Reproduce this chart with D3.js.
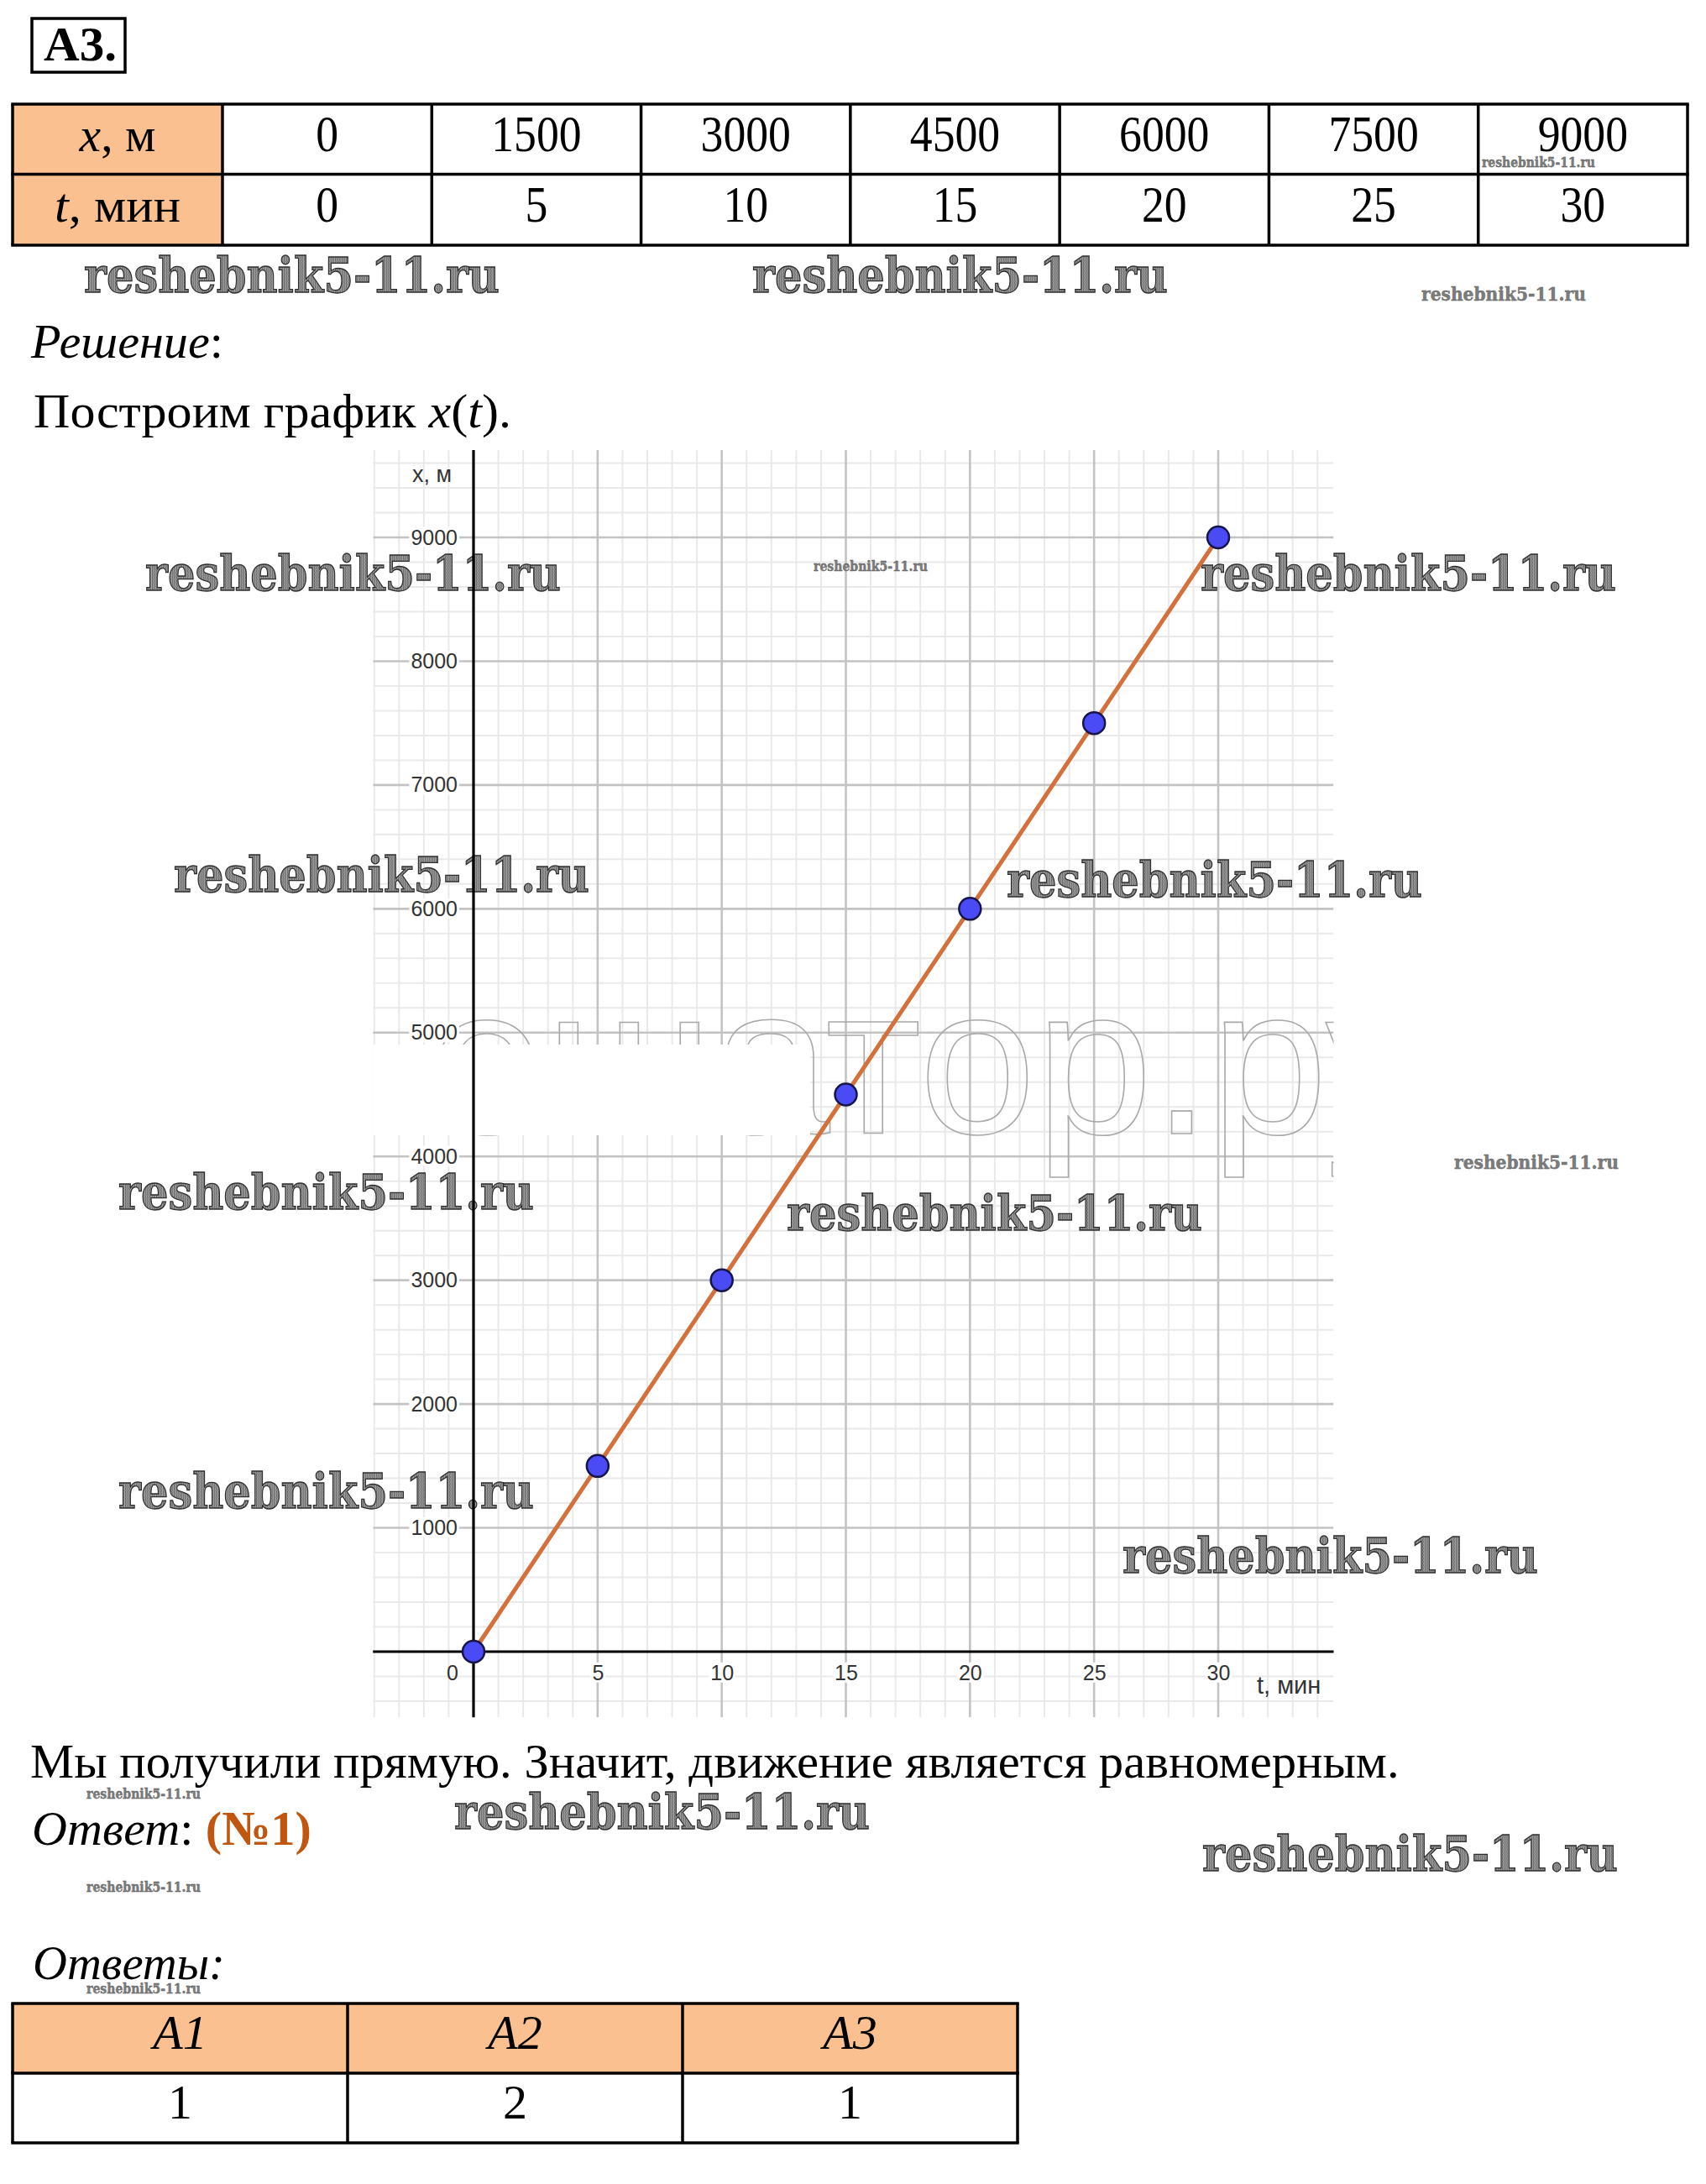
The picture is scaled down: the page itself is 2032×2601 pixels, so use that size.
<!DOCTYPE html>
<html>
<head>
<meta charset="utf-8">
<script src="https://cdn.jsdelivr.net/npm/d3@7"></script>
<style>
  html, body { margin: 0; padding: 0; background: #fff; }
  svg { display: block; }
  .serif { font-family: 'Liberation Serif', 'Times New Roman', serif; }
  .sans { font-family: 'Liberation Sans', Arial, sans-serif; }
  .mark { font-family: 'DejaVu Serif', serif; font-weight: bold; }
</style>
</head>
<body>
<div id="main"></div>
<script>
'use strict';
// - - - - - - - - - -

// data
const timeMin = [0, 5, 10, 15, 20, 25, 30];
const distM = [0, 1500, 3000, 4500, 6000, 7500, 9000];
const tTicks = [5, 10, 15, 20, 25, 30];
const xTicks = [1000, 2000, 3000, 4000, 5000, 6000, 7000, 8000, 9000];
const answerKeys = ['A1', 'A2', 'A3'];
const answerVals = ['1', '2', '1'];

// declaration
let
  svg = undefined,
  tScale = undefined,
  xScale = undefined;

// configuration
const canvas = { context: '#main', width: 2032, height: 2601 };
const view = { tFrom: -4.05, tTo: 34.65, xFrom: -530, xTo: 9705 };
const orange = '#fac08f';

// watermark spots: left, baseline, width
const marks = [
  [100, 348, 495], [896, 348, 495], [1693, 358, 196], [1765, 199, 135],
  [173, 703, 495], [969, 680, 136], [1430, 703, 495],
  [207, 1062, 495], [1199, 1068, 495],
  [141, 1440, 495], [937, 1465, 495], [1732, 1392, 196],
  [141, 1796, 495], [1337, 1873, 495],
  [103, 2142, 136], [541, 2178, 495], [1432, 2228, 495],
  [103, 2253, 136], [103, 2374, 136]
];

// methods
function setCanvas(domContext) {
  svg = d3.select(domContext)
    .append('svg')
    .attr('width', canvas.width)
    .attr('height', canvas.height);

  svg.append('rect')
    .attr('width', canvas.width)
    .attr('height', canvas.height)
    .attr('fill', '#fff');

  const defs = svg.append('defs');
  const pat = defs.append('pattern')
    .attr('id', 'hatch')
    .attr('patternUnits', 'userSpaceOnUse')
    .attr('width', 3)
    .attr('height', 4);
  pat.append('rect').attr('width', 3).attr('height', 4).attr('fill', '#a2a2a2');
  pat.append('line')
    .attr('x1', 0.5).attr('y1', 0).attr('x2', 1.2).attr('y2', 4)
    .attr('stroke', '#505050').attr('stroke-width', 1);

  defs.append('clipPath')
    .attr('id', 'viewClip')
    .append('rect');
}

// squeeze a text horizontally to a measured width
function fitText(sel, x, y, width) {
  const w = sel.node().getComputedTextLength();
  const k = w > 0 ? width / w : 1;
  sel.attr('x', 0).attr('y', 0)
    .attr('transform', 'translate(' + x + ',' + y + ') scale(' + k + ',1)');
}

function writeLine(parts, x, y, width, size) {
  const t = svg.append('text')
    .attr('class', 'serif')
    .attr('font-size', size || 58)
    .attr('fill', '#000');
  parts.forEach(function (p) {
    t.append('tspan')
      .text(p.s)
      .attr('font-style', p.i ? 'italic' : null)
      .attr('font-weight', p.b ? 'bold' : null)
      .attr('fill', p.c || null);
  });
  fitText(t, x, y, width);
  return t;
}

function drawHeader() {
  svg.append('rect')
    .attr('x', 38).attr('y', 22)
    .attr('width', 111).attr('height', 64)
    .attr('fill', 'none').attr('stroke', '#000').attr('stroke-width', 3.5);
  writeLine([{ s: 'A3.', b: true }], 52, 72, 87, 57);
}

function drawDataTable() {
  const x0 = 15, labelW = 250, cellW = (2010 - 265) / timeMin.length;
  const rowY = [124, 207.5, 292];
  const rows = [
    { v: 'x', unit: ', м', w: 91, values: distM },
    { v: 't', unit: ', мин', w: 150, values: timeMin }
  ];
  const g = svg.append('g');

  rows.forEach(function (r, i) {
    g.append('rect')
      .attr('x', x0).attr('y', rowY[i])
      .attr('width', labelW).attr('height', rowY[i + 1] - rowY[i])
      .attr('fill', orange);
  });

  // grid lines of the table
  [x0, x0 + labelW].concat(timeMin.map(function (d, i) { return x0 + labelW + cellW * (i + 1); }))
    .forEach(function (x) {
      g.append('line').attr('x1', x).attr('x2', x).attr('y1', rowY[0]).attr('y2', rowY[2])
        .attr('stroke', '#000').attr('stroke-width', 3.5);
    });
  rowY.forEach(function (y) {
    g.append('line').attr('x1', x0 - 1.7).attr('x2', 2011.7).attr('y1', y).attr('y2', y)
      .attr('stroke', '#000').attr('stroke-width', 3.5);
  });

  rows.forEach(function (r, i) {
    const base = rowY[i] + 56;
    const lab = g.append('text').attr('class', 'serif').attr('font-size', 58)
      .attr('text-anchor', 'middle');
    lab.append('tspan').attr('font-style', 'italic').text(r.v);
    lab.append('tspan').text(r.unit);
    fitText(lab, x0 + labelW / 2, base, r.w);

    r.values.forEach(function (v, j) {
      g.append('text').attr('class', 'serif').attr('font-size', 61)
        .attr('text-anchor', 'middle')
        .attr('transform', 'translate(' + (x0 + labelW + cellW * (j + 0.5)) + ',' + base + ') scale(0.88,1)')
        .text(v);
    });
  });
}

function setScales() {
  tScale = d3.scaleLinear().domain([0, 30]).range([564, 1451]);
  xScale = d3.scaleLinear().domain([0, 9000]).range([1967, 640]);
}

function drawGrid() {
  const L = tScale(view.tFrom), R = tScale(view.tTo),
    T = xScale(view.xTo), B = xScale(view.xFrom);

  svg.select('#viewClip rect')
    .attr('x', L).attr('y', T).attr('width', R - L).attr('height', B - T);

  const g = svg.append('g').attr('clip-path', 'url(#viewClip)');
  const tLines = d3.range(-4, 35, 1),
    xLines = d3.range(-400, 9800, 200);

  // minor
  g.selectAll('.vmin').data(tLines.filter(function (d) { return d % 5 !== 0; }))
    .enter().append('line')
    .attr('x1', tScale).attr('x2', tScale).attr('y1', T).attr('y2', B)
    .attr('stroke', '#e9e9e9').attr('stroke-width', 2);
  g.selectAll('.hmin').data(xLines.filter(function (d) { return d % 1000 !== 0; }))
    .enter().append('line')
    .attr('y1', xScale).attr('y2', xScale).attr('x1', L).attr('x2', R)
    .attr('stroke', '#e9e9e9').attr('stroke-width', 2);

  // major
  g.selectAll('.vmaj').data(tLines.filter(function (d) { return d % 5 === 0 && d !== 0; }))
    .enter().append('line')
    .attr('x1', tScale).attr('x2', tScale).attr('y1', T).attr('y2', B)
    .attr('stroke', '#c3c3c3').attr('stroke-width', 2.6);
  g.selectAll('.hmaj').data(xLines.filter(function (d) { return d % 1000 === 0 && d !== 0; }))
    .enter().append('line')
    .attr('y1', xScale).attr('y2', xScale).attr('x1', L).attr('x2', R)
    .attr('stroke', '#c3c3c3').attr('stroke-width', 2.6);

  // faint outlined watermark behind the plot, with a white patch
  const ghost = g.append('text')
    .attr('class', 'sans')
    .attr('y', 1350)
    .attr('font-size', 250)
    .attr('fill', 'none')
    .attr('stroke', '#a9a9a9')
    .attr('stroke-width', 1.6)
    .text('ешатор.ру');
  const shift = ghost.node().getStartPositionOfChar(3).x;
  ghost.attr('x', 983 - shift);

  g.append('rect')
    .attr('x', L).attr('y', 1244)
    .attr('width', 965 - L).attr('height', 108)
    .attr('fill', '#fff');
}

function addLabelBacks(axisG) {
  axisG.selectAll('.tick').each(function () {
    const tick = d3.select(this);
    const b = tick.select('text').node().getBBox();
    tick.insert('rect', 'text')
      .attr('x', b.x - 2).attr('y', b.y + 2)
      .attr('width', b.width + 4).attr('height', b.height - 4)
      .attr('fill', '#fff');
  });
}

function drawTickLabels() {
  const gx = svg.append('g')
    .attr('transform', 'translate(0,' + xScale(0) + ')')
    .call(d3.axisBottom(tScale).tickValues(tTicks).tickSize(0).tickPadding(16)
      .tickFormat(d3.format('d')));
  const gy = svg.append('g')
    .attr('transform', 'translate(' + tScale(0) + ',0)')
    .call(d3.axisLeft(xScale).tickValues(xTicks).tickSize(0).tickPadding(19)
      .tickFormat(d3.format('d')));

  [gx, gy].forEach(function (g) {
    g.select('.domain').remove();
    g.attr('font-family', "'Liberation Sans', Arial, sans-serif")
      .attr('font-size', 25);
    g.selectAll('text').attr('fill', '#333');
    addLabelBacks(g);
  });

  // origin label
  svg.append('text').attr('class', 'sans')
    .attr('x', tScale(0) - 25).attr('y', xScale(0) + 34)
    .attr('font-size', 25).attr('fill', '#333')
    .attr('text-anchor', 'middle')
    .text('0');

  // axis titles
  svg.append('text').attr('class', 'sans')
    .attr('x', 491).attr('y', 574)
    .attr('font-size', 27).attr('fill', '#333')
    .text('x, м');
  svg.append('text').attr('class', 'sans')
    .attr('x', 1497).attr('y', 2017)
    .attr('font-size', 29).attr('fill', '#333')
    .text('t, мин');
}

function drawAxes() {
  const g = svg.append('g');
  g.append('line')
    .attr('x1', tScale(view.tFrom)).attr('x2', tScale(view.tTo))
    .attr('y1', xScale(0)).attr('y2', xScale(0))
    .attr('stroke', '#000').attr('stroke-width', 3.2);
  g.append('line')
    .attr('x1', tScale(0)).attr('x2', tScale(0))
    .attr('y1', xScale(view.xTo)).attr('y2', xScale(view.xFrom))
    .attr('stroke', '#000').attr('stroke-width', 3.2);
}

function drawSeries() {
  const pts = timeMin.map(function (t, i) { return [t, distM[i]]; });

  svg.append('path')
    .datum(pts)
    .attr('fill', 'none')
    .attr('stroke', '#d4703c')
    .attr('stroke-width', 5)
    .attr('d', d3.line()
      .x(function (d) { return tScale(d[0]); })
      .y(function (d) { return xScale(d[1]); }));

  svg.selectAll('.pt')
    .data(pts)
    .enter()
    .append('circle')
    .attr('cx', function (d) { return tScale(d[0]); })
    .attr('cy', function (d) { return xScale(d[1]); })
    .attr('r', 13)
    .attr('fill', '#4b4bf5')
    .attr('stroke', '#15154a')
    .attr('stroke-width', 2.5);
}

function drawWatermarks() {
  marks.forEach(function (m) {
    const big = m[2] > 300;
    const t = svg.append('text')
      .attr('class', 'mark')
      .attr('font-size', m[2] * 0.117)
      .attr('fill', big ? 'url(#hatch)' : '#7c7c7c')
      .attr('stroke', big ? '#2e2e2e' : '#555')
      .attr('stroke-width', big ? 1.3 : 0.4)
      .text('reshebnik5-11.ru');
    fitText(t, m[0], m[1], m[2]);
  });
}

function drawAnswerTable() {
  const xs = [15, 414, 813, 1212], ys = [2386, 2469, 2552];
  const g = svg.append('g');

  g.append('rect')
    .attr('x', xs[0]).attr('y', ys[0])
    .attr('width', xs[3] - xs[0]).attr('height', ys[1] - ys[0])
    .attr('fill', orange);

  xs.forEach(function (x) {
    g.append('line').attr('x1', x).attr('x2', x).attr('y1', ys[0]).attr('y2', ys[2])
      .attr('stroke', '#000').attr('stroke-width', 3.5);
  });
  ys.forEach(function (y) {
    g.append('line').attr('x1', xs[0] - 1.7).attr('x2', xs[3] + 1.7).attr('y1', y).attr('y2', y)
      .attr('stroke', '#000').attr('stroke-width', 3.5);
  });

  answerKeys.forEach(function (k, i) {
    const cx = (xs[i] + xs[i + 1]) / 2;
    g.append('text').attr('class', 'serif').attr('font-size', 58)
      .attr('font-style', 'italic').attr('text-anchor', 'middle')
      .attr('x', cx).attr('y', 2440)
      .text(k);
    g.append('text').attr('class', 'serif').attr('font-size', 58)
      .attr('text-anchor', 'middle')
      .attr('x', cx).attr('y', 2523)
      .text(answerVals[i]);
  });
}

function drawTexts() {
  writeLine([{ s: 'Решение', i: true }, { s: ':' }], 37, 426, 229);
  writeLine([{ s: 'Построим график ' }, { s: 'x', i: true }, { s: '(' }, { s: 't', i: true }, { s: ').' }], 40, 509, 569);
  writeLine([{ s: 'Мы получили прямую. Значит, движение является равномерным.' }], 36, 2117, 1631);
  writeLine([{ s: 'Ответ', i: true }, { s: ': ' }, { s: '(№1)', b: true, c: '#c0560f' }], 38, 2197, 333);
  writeLine([{ s: 'Ответы:', i: true }], 39, 2357, 229);
}

// control
setCanvas(canvas.context);
setScales();
drawHeader();
drawDataTable();
drawTexts();
drawGrid();
drawTickLabels();
drawWatermarks();
drawAxes();
drawSeries();
drawAnswerTable();

// - - - - - - - - - -
</script>
</body>
</html>
